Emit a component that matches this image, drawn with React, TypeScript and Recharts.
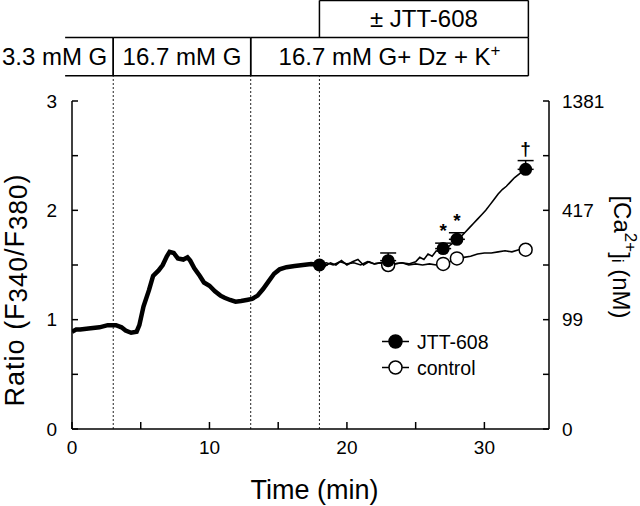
import { ComposedChart, Line, Scatter, XAxis, YAxis, ReferenceLine, ReferenceArea, ErrorBar } from 'recharts'

const FONT = '"Liberation Sans", Arial, Helvetica, sans-serif'

// shared trace before the test period (min, ratio)
const baseTime = [0, 0.3, 0.6, 1.2, 2, 2.6, 3.2, 3.6, 3.9, 4.3, 4.7, 4.9, 5.2, 5.6, 5.9, 6.3, 6.6, 6.9, 7.1, 7.4, 7.7, 8.1, 8.4, 8.6, 8.9, 9.3, 9.6, 10, 10.4, 10.8, 11.1, 11.5, 11.9, 12.3, 12.7, 13.1, 13.5, 13.9, 14.3, 14.7, 15.1, 15.6, 16.2, 16.8, 17.4, 18]
const baseRatio = [0.89, 0.91, 0.91, 0.92, 0.93, 0.95, 0.95, 0.93, 0.9, 0.88, 0.89, 0.95, 1.12, 1.27, 1.4, 1.45, 1.5, 1.58, 1.62, 1.61, 1.56, 1.55, 1.57, 1.54, 1.47, 1.4, 1.34, 1.31, 1.26, 1.22, 1.2, 1.18, 1.165, 1.17, 1.18, 1.19, 1.22, 1.28, 1.35, 1.42, 1.46, 1.48, 1.49, 1.5, 1.51, 1.5]

const jttTime = [18, 18.5, 19, 19.5, 20, 20.5, 21, 21.5, 22, 22.5, 23, 23.5, 24, 24.5, 25, 25.3, 25.6, 25.9, 26.2, 26.5, 26.8, 27, 27.4, 27.7, 28, 28.3, 28.6, 28.9, 29.2, 29.5, 29.8, 30.1, 30.4, 30.7, 31, 31.3, 31.6, 31.9, 32.2, 32.5, 32.8, 33]
const jttRatio = [1.5, 1.52, 1.5, 1.53, 1.51, 1.52, 1.5, 1.53, 1.51, 1.52, 1.53, 1.51, 1.52, 1.51, 1.53, 1.57, 1.55, 1.6, 1.58, 1.63, 1.62, 1.65, 1.67, 1.7, 1.735, 1.76, 1.8, 1.84, 1.88, 1.92, 1.96, 2.0, 2.05, 2.1, 2.15, 2.19, 2.22, 2.26, 2.3, 2.33, 2.36, 2.375]

const ctrlTime = [18, 18.4, 18.8, 19.2, 19.6, 20, 20.4, 20.8, 21.2, 21.6, 22, 22.4, 22.8, 23, 23.4, 24, 24.5, 25, 25.5, 26, 26.5, 27, 27.5, 28, 28.5, 29, 29.5, 30, 30.5, 31, 31.5, 32, 32.5, 33]
const ctrlRatio = [1.5, 1.49, 1.52, 1.5, 1.54, 1.5, 1.53, 1.55, 1.5, 1.53, 1.51, 1.52, 1.5, 1.49, 1.51, 1.52, 1.5, 1.51, 1.5, 1.51, 1.5, 1.51, 1.53, 1.56, 1.57, 1.58, 1.6, 1.61, 1.61, 1.62, 1.63, 1.62, 1.64, 1.64]

// mean points with upper SEM
const jttMarkTime = [18, 23, 27, 28, 33]
const jttMarkRatio = [1.5, 1.54, 1.65, 1.735, 2.375]
const jttMarkSem = [0, 0.07, 0.05, 0.06, 0.08]
const ctrlMarkTime = [23, 27, 28, 33]
const ctrlMarkRatio = [1.5, 1.51, 1.56, 1.64]

const signifTime = [27, 28, 33]
const signifRatio = [1.83, 1.92, 2.58]
const signifMark = ['*', '*', '†']

const xTicks = [0, 5, 10, 15, 20, 25, 30]
const yTicks = [0, 0.5, 1, 1.5, 2, 2.5, 3]
const caLabels: Record<number, string> = { 0: '0', 1: '99', 2: '417', 3: '1381' }

const periodStart = [-0.5, 3, 13, 18]
const periodEnd = [3, 13, 33.2, 33.2]
const periodLow = [3.23, 3.23, 3.23, 3.58]
const periodHigh = [3.58, 3.58, 3.58, 3.92]
const periodText = ['3.3 mM G', '16.7 mM G', '16.7 mM G+ Dz + K', '± JTT-608']
const solutionChanges = [3, 13, 18]

const series = [
  { name: 'JTT-608', filled: true },
  { name: 'control', filled: false },
]

const toPoints = (t: number[], r: number[]) => t.map((v, i) => ({ t: v, r: r[i] }))
const baseData = toPoints(baseTime, baseRatio)
const jttData = toPoints(jttTime, jttRatio)
const ctrlData = toPoints(ctrlTime, ctrlRatio)
const jttMarks = jttMarkTime.map((t, i) => ({ t, r: jttMarkRatio[i], err: [0, jttMarkSem[i]] }))
const ctrlMarks = toPoints(ctrlMarkTime, ctrlMarkRatio)
const signifData = signifTime.map((t, i) => ({ t, r: signifRatio[i], mark: signifMark[i] }))

function PeriodBox(props: any, i: number) {
  const { x, y, width, height } = props
  const top = i === 3
  const txt = periodText[i]
  const cy = y + height / 2 + 8
  return (
    <g>
      <line x1={x} x2={x + width} y1={y} y2={y} stroke="#000" strokeWidth={1.5} />
      {!top && <line x1={x} x2={x + width} y1={y + height} y2={y + height} stroke="#000" strokeWidth={1.5} />}
      <line x1={x + width} x2={x + width} y1={y} y2={y + height} stroke="#000" strokeWidth={1.5} />
      {(i > 0) && <line x1={x} x2={x} y1={y} y2={y + height} stroke="#000" strokeWidth={1.5} />}
      {i === 0 ? (
        <text x={x + width - 6} y={cy} textAnchor="end" fontSize={24} fill="#000">{txt}</text>
      ) : i === 2 ? (
        <text x={x + width / 2} y={cy} textAnchor="middle" fontSize={24} fill="#000">
          {txt}
          <tspan dy={-9} fontSize={17}>+</tspan>
        </text>
      ) : (
        <text x={x + width / 2} y={cy} textAnchor="middle" fontSize={24} fill="#000">{txt}</text>
      )}
    </g>
  )
}

function SeriesKey() {
  return (
    <svg width={160} height={60} style={{ position: 'absolute', left: 380, top: 320 }}>
      {series.map((s, i) => (
        <g key={s.name} transform={`translate(0, ${21.5 + i * 26})`}>
          <line x1={2} x2={29} y1={0} y2={0} stroke="#000" strokeWidth={1.5} />
          <circle cx={15.5} cy={0} r={6.5} fill={s.filled ? '#000' : '#fff'} stroke="#000" strokeWidth={1.5} />
          <text x={37} y={7} fontSize={19.5} fill="#000" fontFamily={FONT}>{s.name}</text>
        </g>
      ))}
    </svg>
  )
}

export default function App() {
  return (
    <div style={{ position: 'absolute', left: 0, top: 0, width: 640, height: 506, background: '#fff', fontFamily: FONT }}>
      <ComposedChart width={640} height={506} margin={{ top: 101, right: 0, bottom: 0, left: 0 }}>
        <XAxis
          dataKey="t"
          type="number"
          domain={[0, 34.7]}
          ticks={xTicks}
          interval={0}
          allowDataOverflow
          tickFormatter={(v: number) => (v % 10 === 0 ? String(v) : '')}
          tickSize={-7}
          tickMargin={19}
          height={77}
          tick={{ fontSize: 19, fill: '#000' }}
          axisLine={{ stroke: '#000', strokeWidth: 1.5 }}
          tickLine={{ stroke: '#000', strokeWidth: 1.5 }}
          label={{
            content: ({ viewBox }: any) => (
              <text x={viewBox.x + viewBox.width / 2 + 4} y={viewBox.y + 70} textAnchor="middle" fontSize={27} fill="#000">
                Time (min)
              </text>
            ),
          }}
        />
        <YAxis
          yAxisId="left"
          type="number"
          domain={[0, 3]}
          ticks={yTicks}
          interval={0}
          allowDataOverflow
          width={72}
          tickFormatter={(v: number) => (Number.isInteger(v) ? String(v) : '')}
          tickSize={-6}
          tickMargin={21}
          tick={{ fontSize: 19, fill: '#000' }}
          axisLine={{ stroke: '#000', strokeWidth: 1.5 }}
          tickLine={{ stroke: '#000', strokeWidth: 1.5 }}
          label={{
            content: ({ viewBox }: any) => {
              const cx = 15
              const cy = viewBox.y + viewBox.height / 2 + 25
              return (
                <text transform={`translate(${cx}, ${cy}) rotate(-90)`} textAnchor="middle" dominantBaseline="central" fontSize={27} letterSpacing={1} fill="#000">
                  Ratio (F<tspan fontSize={26} dy={3}>340</tspan><tspan dy={-3}>/F</tspan><tspan fontSize={26} dy={3}>380</tspan><tspan dy={-3}>)</tspan>
                </text>
              )
            },
          }}
        />
        <YAxis
          yAxisId="right"
          orientation="right"
          type="number"
          domain={[0, 3]}
          ticks={yTicks}
          interval={0}
          allowDataOverflow
          width={91}
          tickFormatter={(v: number) => caLabels[v] ?? ''}
          tickSize={-6}
          tickMargin={19}
          tick={{ fontSize: 19, fill: '#000' }}
          axisLine={{ stroke: '#000', strokeWidth: 1.5 }}
          tickLine={{ stroke: '#000', strokeWidth: 1.5 }}
          label={{
            content: ({ viewBox }: any) => {
              const cx = 622
              const cy = viewBox.y + viewBox.height / 2 - 8
              return (
                <text transform={`translate(${cx}, ${cy}) rotate(90)`} textAnchor="middle" dominantBaseline="central" fontSize={24} fill="#000">
                  [Ca<tspan fontSize={17} dy={-9}>2+</tspan><tspan dy={9}>]</tspan><tspan fontSize={17} dy={4}>i</tspan><tspan dy={-4}> (nM)</tspan>
                </text>
              )
            },
          }}
        />

        {periodStart.map((x1, i) => (
          <ReferenceArea
            key={periodText[i]}
            yAxisId="left"
            x1={x1}
            x2={periodEnd[i]}
            y1={periodLow[i]}
            y2={periodHigh[i]}
            ifOverflow="visible"
            shape={(p: any) => PeriodBox(p, i)}
          />
        ))}
        {solutionChanges.map((x) => (
          <ReferenceLine
            key={x}
            yAxisId="left"
            segment={[{ x, y: 0 }, { x, y: periodLow[0] }]}
            ifOverflow="visible"
            stroke="#222"
            strokeWidth={1}
            strokeDasharray="2 2"
          />
        ))}

        <Line yAxisId="left" data={baseData} dataKey="r" stroke="#000" strokeWidth={4.5} dot={false} isAnimationActive={false} />
        <Line yAxisId="left" data={ctrlData} dataKey="r" stroke="#000" strokeWidth={1.6} dot={false} isAnimationActive={false} />
        <Line yAxisId="left" data={jttData} dataKey="r" stroke="#000" strokeWidth={1.6} dot={false} isAnimationActive={false} />
        <Scatter
          yAxisId="left"
          data={ctrlMarks}
          dataKey="r"
          isAnimationActive={false}
          shape={(p: any) => <circle cx={p.cx} cy={p.cy} r={6.5} fill="#fff" stroke="#000" strokeWidth={1.5} />}
        />
        <Scatter
          yAxisId="left"
          data={jttMarks}
          dataKey="r"
          isAnimationActive={false}
          shape={(p: any) => <circle cx={p.cx} cy={p.cy} r={6.5} fill="#000" />}
        >
          <ErrorBar dataKey="err" direction="y" width={8} stroke="#000" strokeWidth={1.5} />
        </Scatter>
        <Scatter
          yAxisId="left"
          data={signifData}
          dataKey="r"
          isAnimationActive={false}
          shape={(p: any) => (
            <text x={p.cx} y={p.cy + 8} textAnchor="middle" fontSize={19} fontWeight="bold" fill="#000">{p.payload.mark}</text>
          )}
        />
      </ComposedChart>
      <SeriesKey />
    </div>
  )
}
